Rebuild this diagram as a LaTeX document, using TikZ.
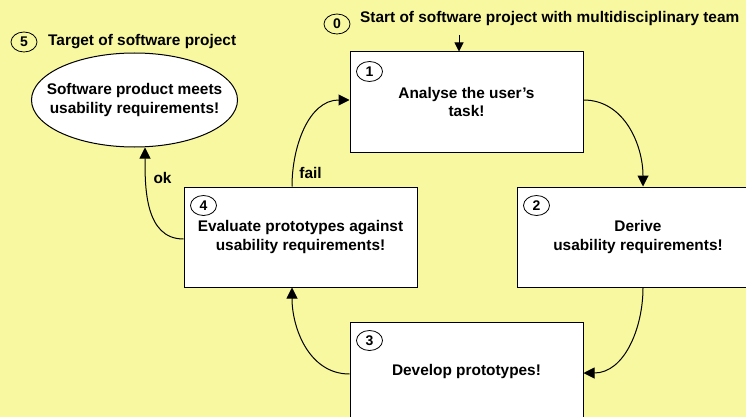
\documentclass[tikz,border=0pt]{standalone}
\usepackage{fontspec}
\setmainfont{Liberation Sans}
\usetikzlibrary{arrows.meta,shapes.geometric,calc}
\definecolor{bgyellow}{RGB}{248,248,160}

\begin{document}
\begin{tikzpicture}[x=1pt,y=-1pt,
  every node/.style={font=\fontsize{15.4}{18.5}\selectfont\bfseries},
  stepbox/.style={draw,fill=white,line width=1pt,minimum width=233pt,minimum height=100pt,align=center,inner sep=0pt},
  goalshape/.style={draw,fill=white,ellipse,line width=1pt,minimum width=206pt,minimum height=94pt,inner sep=0pt},
  numtag/.style={draw,ellipse,line width=0.8pt,minimum width=26pt,minimum height=20pt,inner sep=0pt,font=\fontsize{14}{14}\selectfont\bfseries},
  flow/.style={line width=1pt,-{Triangle[length=11pt,width=11pt]}},
  entry/.style={line width=1pt,-{Triangle[length=9pt,width=9pt]}},
  heading/.style={anchor=west,inner sep=0pt}]
\fill[bgyellow] (0,0) rectangle (746,417);
\useasboundingbox (0,0) rectangle (746,417);
\clip (0,0) rectangle (746,417);

% process steps
\node[stepbox] (b1) at (466.5,102) {Analyse the user's\\task!};
\node[stepbox,minimum width=242pt] (b2) at (638,237) {Derive\\usability requirements!};
\node[stepbox] (b3) at (466.5,372) {Develop prototypes!};
\node[stepbox] (b4) at (300.5,237) {Evaluate prototypes against\\usability requirements!};

% goal ellipse with its text set on top
\node[goalshape] (goal) at (134.5,100) {};
\node[align=center,inner sep=0pt] (goaltext) at (goal.center) {Software product meets\\usability requirements!};

% step numbers
\node[numtag] (n1) at ($(b1.north west)+(20,20)$) {1};
\node[numtag] (n2) at ($(b2.north west)+(20,19)$) {2};
\node[numtag] (n3) at ($(b3.north west)+(20,19)$) {3};
\node[numtag] (n4) at ($(b4.north west)+(20,19)$) {4};
\node[numtag] (n0) at (337,24) {0};
\node[numtag] (n5) at (24,42) {5};

% headings
\node[heading] (t0) at (360,19) {Start of software project with multidisciplinary team};
\node[heading] (t5) at (48,42) {Target of software project};

% connectors
\coordinate (s0) at (459,35);
\draw[entry] (s0) -- ($(b1.north)+(-7.5,0)$);
\draw[flow] ($(b1.east)+(0,-2)$) to[out=0,in=90] ($(b2.north)+(5,0)$);
\draw[flow] ($(b2.south)+(5,0)$) to[out=-90,in=0] ($(b3.east)+(0,1)$);
\draw[flow] ($(b3.west)+(0,2)$) to[out=180,in=-90] ($(b4.south)+(-8.5,0)$);
\draw[flow] ($(b4.north)+(-8.5,0)$) to[out=90,in=180] ($(b1.west)+(0,-2)$);
\draw[flow] ($(b4.west)+(0,2)$) to[out=180,in=-90] ($(goal.south)+(10.5,0)$);

% decision labels
\node (fail) at (310.5,173) {fail};
\node (ok) at (162.5,178) {ok};
\end{tikzpicture}
\end{document}
